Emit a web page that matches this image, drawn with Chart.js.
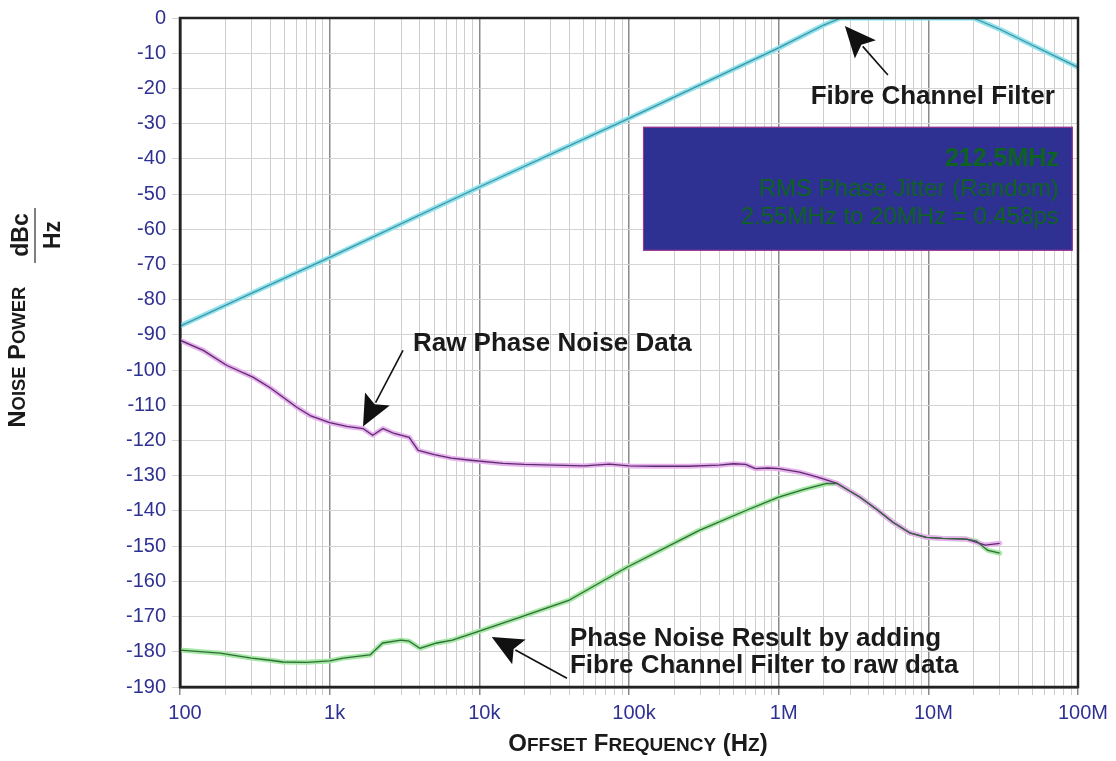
<!DOCTYPE html>
<html><head><meta charset="utf-8">
<script src="https://cdn.jsdelivr.net/npm/chart.js@4.4.1/dist/chart.umd.min.js"></script>
<style>html,body{margin:0;padding:0;background:#fff;overflow:hidden}</style>
</head><body>
<canvas id="c" width="1116" height="761"></canvas>
<script>
// ---------- data ----------
const xTickValues = [100, 1e3, 1e4, 1e5, 1e6, 1e7, 1e8];
const xTickLabels = ['100', '1k', '10k', '100k', '1M', '10M', '100M'];

const filterFreq = [100, 1000, 10000, 100000, 1000000, 2000000, 2600000, 20000000, 30000000, 50000000, 100000000];
const filterDb   = [-87.5, -68, -48, -28.5, -8.5, -2, 0, 0, -3.2, -7.8, -14];

const rawFreq = [100, 143, 206, 307, 400, 606, 740, 1000, 1300, 1670, 1940, 2270, 2700, 3400, 3900, 5000, 6500, 8700, 14400, 20000, 31000, 50000, 74000, 100000, 150000, 250000, 400000, 500000, 600000, 700000, 850000, 1000000, 1380000, 1800000, 2460000, 3500000, 4600000, 5800000, 7500000, 9700000, 12400000, 18000000, 21000000, 24000000, 30000000];
const rawDb   = [-91.5, -94.4, -98.7, -102, -105, -110.6, -112.9, -114.9, -116, -116.6, -118.5, -116.6, -118, -119.1, -122.8, -124, -125, -125.6, -126.5, -126.8, -127, -127.2, -126.7, -127.2, -127.3, -127.3, -127, -126.6, -126.8, -128, -127.8, -128, -129, -130.3, -132.2, -136.1, -139.8, -143.2, -146.2, -147.5, -147.8, -148, -148.9, -149.7, -149.2];

const resFreq = [100, 185, 300, 400, 488, 700, 1000, 1230, 1860, 2260, 3000, 3400, 4000, 5200, 6600, 10000, 18600, 40000, 97000, 295000, 610000, 1000000, 1500000, 2100000, 2460000, 3500000, 4600000, 5800000, 7500000, 9700000, 12400000, 18000000, 21000000, 25000000, 30000000];
const resDb   = [-179.5, -180.4, -181.8, -182.4, -182.9, -183, -182.6, -181.8, -180.9, -177.5, -176.7, -177, -179, -177.5, -176.7, -174.1, -170.2, -165.3, -156, -145.5, -139.8, -136.1, -133.8, -132.2, -132.2, -136.1, -139.8, -143.2, -146.2, -147.5, -147.8, -148, -148.6, -151.2, -152];

const seriesNames = ['Fibre Channel Filter', 'Raw Phase Noise Data', 'Phase Noise Result'];

// ---------- helpers ----------
const FAM = '"Liberation Sans", Arial, Helvetica, sans-serif';
const TICK_COLOR = '#2e3192';
const zip = (xs, ys) => xs.map((x, i) => ({x, y: ys[i]}));
const isMajor = v => Math.abs(Math.log10(v) - Math.round(Math.log10(v))) < 1e-9;

function txt(ctx, s, x, y, size, weight, color, align) {
  ctx.font = `${weight} ${size}px ${FAM}`;
  ctx.fillStyle = color; ctx.textAlign = align || 'left'; ctx.textBaseline = 'alphabetic';
  ctx.fillText(s, x, y);
}
function smallCapsRuns(s, big, small) {
  const runs = [];
  for (const ch of s) {
    const isLower = ch !== ch.toUpperCase();
    runs.push({ch: ch.toUpperCase(), size: isLower ? small : big});
  }
  return runs;
}
function drawSmallCaps(ctx, s, cx, baseY, big, small, color) {
  const runs = smallCapsRuns(s, big, small);
  let w = 0;
  runs.forEach(r => { ctx.font = `bold ${r.size}px ${FAM}`; r.w = ctx.measureText(r.ch).width; w += r.w; });
  let x = cx - w / 2;
  ctx.fillStyle = color; ctx.textAlign = 'left'; ctx.textBaseline = 'alphabetic';
  runs.forEach(r => { ctx.font = `bold ${r.size}px ${FAM}`; ctx.fillText(r.ch, x, baseY); x += r.w; });
}
function arrow(ctx, x1, y1, x2, y2) {
  const L = 31, H = 14;
  const dx = x2 - x1, dy = y2 - y1, d = Math.hypot(dx, dy);
  const ux = dx / d, uy = dy / d;
  const bx = x2 - ux * L, by = y2 - uy * L;
  ctx.strokeStyle = '#111'; ctx.lineWidth = 1.6;
  ctx.beginPath(); ctx.moveTo(x1, y1); ctx.lineTo(bx + ux * 4, by + uy * 4); ctx.stroke();
  ctx.fillStyle = '#111';
  ctx.beginPath(); ctx.moveTo(x2, y2);
  ctx.lineTo(bx - uy * H, by + ux * H);
  ctx.lineTo(bx + ux * 6, by + uy * 6);
  ctx.lineTo(bx + uy * H, by - ux * H);
  ctx.closePath(); ctx.fill();
}

// annotation anchors in data space (frequency, dB)
const ann = {
  fibreText: [7.0e7, -24.4], fibreTail: [5.37e6, -16.2], fibreTip: [2.77e6, -2.3],
  rawText: [3.6e3, -94.7], rawTail: [3.09e3, -94.4], rawTip: [1.67e3, -116],
  resText1: [4.03e4, -178.4], resText2: [4.03e4, -186.0], resTail: [3.85e4, -187.5], resTip: [1.21e4, -175.8],
  boxTL: [1.24e5, -30.9], boxBR: [9.23e7, -66.1],
  boxText: [7.45e7, -42.0, -50.5, -58.4]
};

const coreLines = {
  id: 'coreLines',
  afterDatasetsDraw(chart) {
    const ctx = chart.ctx, a = chart.chartArea;
    ctx.save();
    ctx.beginPath(); ctx.rect(a.left, a.top - 3, a.right - a.left, a.bottom - a.top + 6); ctx.clip();
    chart.data.datasets.forEach((ds, i) => {
      const pts = chart.getDatasetMeta(i).data;
      ctx.beginPath();
      pts.forEach((p, j) => j ? ctx.lineTo(p.x, p.y) : ctx.moveTo(p.x, p.y));
      ctx.strokeStyle = ds.coreColor; ctx.lineWidth = 1.3; ctx.lineJoin = 'round'; ctx.stroke();
    });
    ctx.restore();
  }
};

const decorations = {
  id: 'decorations',
  afterDraw(chart) {
    const ctx = chart.ctx, a = chart.chartArea;
    const xs = chart.scales.x, ys = chart.scales.y;
    const P = p => [xs.getPixelForValue(p[0]), ys.getPixelForValue(p[1])];
    ctx.save();
    // frame
    ctx.strokeStyle = '#222'; ctx.lineWidth = 2.5;
    ctx.strokeRect(a.left, a.top, a.right - a.left, a.bottom - a.top);

    // info box
    const tl = P(ann.boxTL), br = P(ann.boxBR);
    ctx.fillStyle = '#2e3192';
    ctx.fillRect(tl[0], tl[1], br[0] - tl[0], br[1] - tl[1]);
    ctx.strokeStyle = '#b0338f'; ctx.lineWidth = 1;
    ctx.strokeRect(tl[0] + 0.5, tl[1] + 0.5, br[0] - tl[0] - 1, br[1] - tl[1] - 1);
    const bx = xs.getPixelForValue(ann.boxText[0]);
    const GREEN = '#0e6322';
    txt(ctx, '212.5MHz', bx, ys.getPixelForValue(ann.boxText[1]), 25, 'bold', GREEN, 'right');
    txt(ctx, 'RMS Phase Jitter (Random)', bx, ys.getPixelForValue(ann.boxText[2]), 24, 'normal', GREEN, 'right');
    txt(ctx, '2.55MHz to 20MHz = 0.458ps', bx, ys.getPixelForValue(ann.boxText[3]), 24, 'normal', GREEN, 'right');

    // annotations
    let p = P(ann.fibreText);
    txt(ctx, 'Fibre Channel Filter', p[0], p[1], 26, 'bold', '#1a1a1a', 'right');
    arrow(ctx, ...P(ann.fibreTail), ...P(ann.fibreTip));
    p = P(ann.rawText);
    txt(ctx, 'Raw Phase Noise Data', p[0], p[1], 26, 'bold', '#1a1a1a', 'left');
    arrow(ctx, ...P(ann.rawTail), ...P(ann.rawTip));
    p = P(ann.resText1);
    txt(ctx, 'Phase Noise Result by adding', p[0], p[1], 26, 'bold', '#1a1a1a', 'left');
    p = P(ann.resText2);
    txt(ctx, 'Fibre Channel Filter to raw data', p[0], p[1], 26, 'bold', '#1a1a1a', 'left');
    arrow(ctx, ...P(ann.resTail), ...P(ann.resTip));

    // x axis title
    drawSmallCaps(ctx, 'Offset Frequency (Hz)', (a.left + a.right) / 2 + 9, 751, 24, 19, '#1a1a1a');

    // y axis title (rotated)
    ctx.save();
    ctx.translate(25, 357); ctx.rotate(-Math.PI / 2);
    drawSmallCaps(ctx, 'Noise Power', 0, 0, 23.5, 18.5, '#1a1a1a');
    ctx.restore();
    // dBc / Hz fraction
    ctx.save();
    ctx.translate(28, 235); ctx.rotate(-Math.PI / 2);
    txt(ctx, 'dBc', 0, 0, 23, 'bold', '#1a1a1a', 'center');
    ctx.restore();
    ctx.save();
    ctx.translate(60, 235); ctx.rotate(-Math.PI / 2);
    txt(ctx, 'Hz', 0, 0, 23, 'bold', '#1a1a1a', 'center');
    ctx.restore();
    ctx.strokeStyle = '#555'; ctx.lineWidth = 1.5;
    ctx.beginPath(); ctx.moveTo(35, 208); ctx.lineTo(35, 263); ctx.stroke();
    ctx.restore();
  }
};

new Chart(document.getElementById('c'), {
  type: 'line',
  data: {
    datasets: [
      {label: seriesNames[0], data: zip(filterFreq, filterDb), borderColor: '#8fe2ec', coreColor: '#3f93a4', borderWidth: 5},
      {label: seriesNames[1], data: zip(rawFreq, rawDb), borderColor: '#e8b0ef', coreColor: '#5a2c6a', borderWidth: 5},
      {label: seriesNames[2], data: zip(resFreq, resDb), borderColor: '#a4e8a4', coreColor: '#2f6b36', borderWidth: 5}
    ]
  },
  options: {
    responsive: false, animation: false, devicePixelRatio: 1,
    parsing: true,
    elements: {point: {radius: 0}, line: {tension: 0, borderJoinStyle: 'round', borderCapStyle: 'round'}},
    layout: {padding: {top: 17, right: 38, left: 0, bottom: 0}},
    plugins: {legend: {display: false}, tooltip: {enabled: false}},
    scales: {
      x: {
        type: 'logarithmic', min: 100, max: 1e8,
        afterBuildTicks: s => {
          const t = [];
          for (let e = 2; e < 8; e++) for (let m = 1; m < 10; m++) t.push({value: m * Math.pow(10, e)});
          t.push({value: 1e8});
          s.ticks = t;
        },
        ticks: {
          autoSkip: false, maxRotation: 0, minRotation: 0, color: TICK_COLOR, padding: 6, labelOffset: 5,
          font: {family: FAM, size: 20},
          callback: v => { const i = xTickValues.findIndex(t => Math.abs(t - v) < 1e-6 * t); return i >= 0 ? xTickLabels[i] : ''; }
        },
        grid: {
          color: c => (c.tick && isMajor(c.tick.value)) ? '#8a8a8a' : '#cdcdcd',
          lineWidth: c => (c.tick && isMajor(c.tick.value)) ? 1.5 : 1,
          tickLength: 8
        },
        border: {display: true, color: '#222', width: 2.5},
        afterFit: s => { s.height = 74; }
      },
      y: {
        min: -190, max: 0,
        ticks: {stepSize: 10, color: TICK_COLOR, padding: 6, font: {family: FAM, size: 20}},
        grid: {color: '#d4d4d4', lineWidth: 1, tickLength: 8},
        border: {display: true, color: '#222', width: 2.5},
        afterFit: s => { s.width = 180; }
      }
    }
  },
  plugins: [coreLines, decorations]
});
</script>
</body></html>
